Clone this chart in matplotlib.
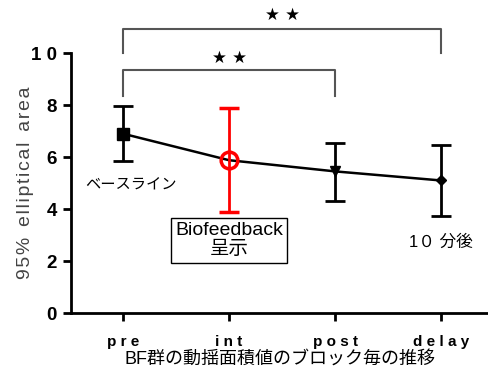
import numpy as np
import matplotlib.pyplot as plt

plt.rcParams['font.family'] = ['Liberation Sans', 'Noto Sans CJK JP', 'DejaVu Sans']

blocks = ['pre', 'int', 'post', 'delay']
tick_labels = ['p r e', 'i n t', 'p o s t', 'd e l a y']
means = [6.9, 5.88, 5.45, 5.1]
upper = [7.95, 7.9, 6.55, 6.47]
lower = [5.85, 3.88, 4.3, 3.73]
markers = ['s', 'o', 'v', 'D']
colors = ['black', 'red', 'black', 'black']

jp = ['Liberation Sans', 'Noto Sans CJK JP', 'DejaVu Sans']

fig = plt.figure(figsize=(4.89, 3.71), dpi=100)
ax = fig.add_axes([0.145, 0.156, 0.855, 0.701])

x = np.arange(len(blocks))
ax.plot(x, means, color='black', lw=1.8, zorder=2)
for i in x:
    yerr = [[means[i] - lower[i]], [upper[i] - means[i]]]
    c = colors[i]
    if markers[i] == 'o':
        ax.errorbar(i, means[i], yerr=yerr, color=c, lw=2, capsize=7, capthick=2,
                    marker='o', ms=12, mfc='none', mec=c, mew=2.5, zorder=3)
    else:
        ms = {'s': 8, 'v': 7, 'D': 5}[markers[i]]
        ax.errorbar(i, means[i], yerr=yerr, color=c, lw=2, capsize=7, capthick=2,
                    marker=markers[i], ms=ms, mfc=c, mec=c, zorder=3)

ax.set_xlim(-0.49, 3.45)
ax.set_ylim(0, 10)
ax.set_yticks([0, 2, 4, 6, 8, 10])
ax.set_yticklabels(['0', '2', '4', '6', '8', '1 0'], fontsize=13.5, fontweight='bold')
ax.set_xticks(x)
ax.set_xticklabels(tick_labels, fontsize=11, fontweight='bold')
ax.tick_params(axis='both', width=2, length=6, pad=4)
ax.tick_params(axis='x', pad=10)
for s in ['top', 'right']:
    ax.spines[s].set_visible(False)
for s in ['left', 'bottom']:
    ax.spines[s].set_linewidth(2)

ylab = '\u200a'.join('95%') + '  ' + '\u200a'.join('elliptical') + '  ' + '\u200a'.join('area')
ax.set_ylabel(ylab, fontsize=14, color='#444444', labelpad=-2)
ax.set_xlabel('BF群の動揺面積値のブロック毎の推移', fontsize=13, family=jp, labelpad=1)

# significance brackets
def bracket(x0, x1, y0, y1, ytop, ystar):
    ax.plot([x0, x0, x1, x1], [y0, ytop, ytop, y1], color='#555555', lw=1.5, clip_on=False)
    ax.text((x0 + x1) / 2, ystar, '\u2605 \u2605', ha='center', va='center', fontsize=12,
            family='DejaVu Sans', clip_on=False)

bracket(0, 3, 10.0, 10.0, 10.92, 11.45)
bracket(0, 2, 8.35, 8.35, 9.35, 9.8)

ax.text(0.08, 4.9, 'ベースライン', ha='center', va='center', fontsize=11, family=jp)
ax.text(1.0, 2.8, 'Biofeedback\n呈示', ha='center', va='center', fontsize=14, family=jp,
        linespacing=1.15,
        bbox=dict(boxstyle='square,pad=0.22', fc='white', ec='black', lw=1))
ax.text(3.0, 2.73, '1０ 分後', ha='center', va='center', fontsize=12, family=jp)

fig.savefig('out.png', dpi=100)
